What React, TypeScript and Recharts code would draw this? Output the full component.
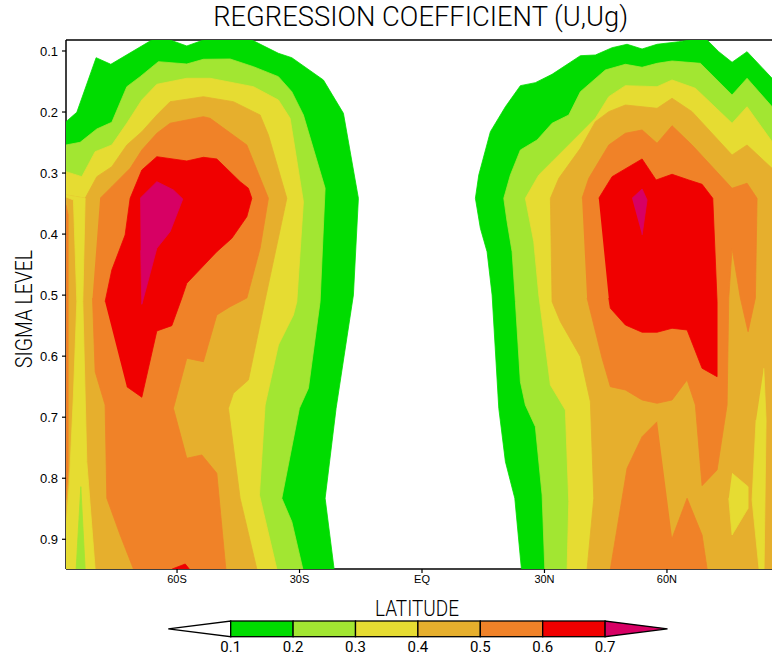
import React from 'react';
import { ScatterChart, Scatter, XAxis, YAxis, ReferenceLine } from 'recharts';

type P = { lat: number; s: number };
const toPts = (a: number[][]): P[] => a.map(([lat, s]) => ({ lat, s }));

// axis extents (latitude degrees, sigma)
const LAT_MIN = -87.2;
const LAT_MAX = 87.2;
const SIG_TOP = 0.082;
const SIG_BOT = 0.9487;

const latTicks = [-60, -30, 0, 30, 60];
const latTickLabels = ['60S', '30S', 'EQ', '30N', '60N'];
const sigmaTicks = [0.1, 0.2, 0.3, 0.4, 0.5, 0.6, 0.7, 0.8, 0.9];

// contour levels and fill colours
const levels = [0.1, 0.2, 0.3, 0.4, 0.5, 0.6, 0.7];
const levelColors = ['#00dc00', '#a2e632', '#e6dc32', '#e6af2d', '#f08228', '#f00000', '#d70064'];

// ---- Southern hemisphere contour regions (lat, sigma) ----
const sh01 = [[-87.2,0.2158],[-84.55,0.2004],[-79.82,0.111],[-76.22,0.1218],[-66.18,0.082],[-61.7,0.082],[-57.61,0.0918],[-53.54,0.082],[-41.69,0.082],[-35.17,0.1038],[-31.89,0.111],[-24.15,0.1475],[-19.25,0.2021],[-15.58,0.3413],[-16.8,0.4997],[-21.04,0.6854],[-23.73,0.8328],[-21.53,0.9487],[-87.2,0.9487]];
const sh02 = [[-87.2,0.254],[-83.74,0.2496],[-79.65,0.2278],[-75.98,0.2168],[-72.3,0.1585],[-69.04,0.1421],[-64.56,0.1175],[-57.61,0.1213],[-53.54,0.1136],[-47.0,0.1131],[-41.29,0.1257],[-35.17,0.1421],[-31.89,0.1667],[-29.05,0.2049],[-23.73,0.3249],[-24.96,0.5107],[-27.82,0.6526],[-30.03,0.6854],[-34.34,0.8328],[-31.89,0.8711],[-29.19,0.9487],[-87.2,0.9487]];
const sh03 = [[-87.2,0.2977],[-83.32,0.3059],[-80.06,0.265],[-75.98,0.254],[-72.3,0.2184],[-68.63,0.1803],[-64.95,0.1546],[-57.61,0.1447],[-51.9,0.1447],[-41.29,0.1585],[-35.17,0.1803],[-32.31,0.2103],[-29.05,0.3469],[-30.66,0.5107],[-31.5,0.5325],[-35.17,0.5817],[-38.43,0.68],[-39.82,0.8274],[-35.56,0.9487],[-87.2,0.9487]];
const sh04 = [[-87.2,0.3359],[-82.51,0.3413],[-79.65,0.3059],[-75.98,0.2896],[-72.3,0.254],[-68.63,0.2322],[-64.95,0.2049],[-61.7,0.1831],[-53.54,0.1749],[-46.19,0.1831],[-39.65,0.2049],[-37.62,0.2376],[-33.11,0.3413],[-38.43,0.508],[-42.52,0.639],[-46.19,0.6608],[-47.42,0.6854],[-44.55,0.8328],[-40.46,0.9487],[-87.2,0.9487]];
const sh05 = [[-78.84,0.3413],[-75.98,0.3223],[-71.49,0.2922],[-68.63,0.2622],[-64.95,0.2348],[-61.7,0.2184],[-53.54,0.2076],[-51.9,0.2103],[-42.91,0.254],[-37.62,0.3413],[-39.65,0.4232],[-42.9,0.5047],[-47.0,0.5189],[-50.26,0.5325],[-53.54,0.609],[-57.61,0.6034],[-60.89,0.6854],[-57.61,0.7673],[-53.93,0.7618],[-50.26,0.7918],[-48.05,0.9487],[-70.68,0.9487],[-73.94,0.893],[-77.2,0.8328],[-77.62,0.68],[-80.06,0.6254],[-80.7,0.5047]];
const sh06 = [[-77.62,0.5107],[-75.98,0.4588],[-72.72,0.4014],[-71.49,0.3413],[-68.63,0.295],[-64.95,0.2732],[-57.61,0.2802],[-53.54,0.2742],[-50.26,0.2769],[-44.55,0.3141],[-42.52,0.3249],[-41.69,0.3413],[-42.91,0.3715],[-46.58,0.4069],[-50.26,0.4288],[-57.61,0.4806],[-58.83,0.5047],[-61.28,0.55],[-64.95,0.5587],[-68.63,0.6673],[-72.3,0.65]];
const sh07 = [[-69.04,0.3413],[-64.95,0.3141],[-60.89,0.3277],[-58.59,0.3425],[-61.7,0.396],[-64.95,0.4232],[-68.63,0.515],[-68.9,0.4265]];
// local minima / maxima inside the bands
const shYellowStrip = [[-87.2,0.3359],[-82.51,0.3413],[-83.08,0.5107],[-82.1,0.7728],[-80.06,0.9487],[-87.2,0.9487],[-87.2,0.882],[-86.36,0.8056],[-85.38,0.6636],[-84.55,0.5107],[-85.38,0.3441],[-87.2,0.3392]];
const shOrangeEdge = [[-87.2,0.3523],[-86.68,0.3687],[-86.68,0.7864],[-87.2,0.8356]];
const shGreenSpike = [[-84.72,0.9487],[-83.57,0.8138],[-82.51,0.9487]];
const shRedFoot = [[-61.2,0.9487],[-58.0,0.9405],[-57.0,0.9487]];

// ---- Northern hemisphere contour regions (lat, sigma) ----
const nh01 = [[24.35,0.9487],[22.73,0.8328],[20.43,0.7728],[18.81,0.6854],[17.17,0.4997],[15.94,0.4288],[14.3,0.3905],[13.08,0.3413],[13.91,0.3031],[16.75,0.2322],[20.43,0.1913],[24.1,0.1568],[27.77,0.1519],[31.86,0.1382],[38.8,0.1077],[42.47,0.1066],[46.56,0.0946],[50.23,0.089],[53.91,0.0967],[57.58,0.089],[62.9,0.0848],[65.66,0.082],[69.83,0.082],[72.69,0.1011],[75.95,0.1185],[79.62,0.1011],[85.75,0.1447],[87.2,0.1557],[87.2,0.9487]];
const nh02 = [[30.08,0.9487],[29.42,0.8274],[27.77,0.7155],[25.32,0.68],[24.1,0.6418],[22.88,0.5107],[22.07,0.4288],[20.84,0.3797],[20.03,0.3413],[21.65,0.3031],[24.1,0.2622],[28.19,0.2458],[31.86,0.2184],[35.95,0.2049],[38.8,0.1667],[44.92,0.1311],[49.82,0.1218],[53.91,0.1267],[57.58,0.1202],[61.25,0.1164],[68.19,0.1202],[75.95,0.1721],[79.62,0.1447],[85.75,0.1913],[87.2,0.2016],[87.2,0.9487]];
const nh03 = [[35.54,0.9487],[35.95,0.8384],[35.12,0.6882],[31.45,0.6472],[28.61,0.4997],[27.38,0.4124],[25.32,0.3413],[28.61,0.3031],[31.86,0.2814],[38.4,0.2376],[42.47,0.2103],[45.75,0.1749],[49.82,0.1568],[57.58,0.1585],[61.25,0.1475],[66.96,0.1611],[75.95,0.2184],[79.62,0.1913],[85.75,0.2486],[87.2,0.2556],[87.2,0.9487]];
const nh04 = [[40.44,0.9487],[42.08,0.8328],[41.24,0.6745],[38.8,0.6008],[33.9,0.5435],[31.86,0.5107],[31.45,0.3413],[33.51,0.3086],[38.8,0.2594],[42.47,0.2158],[45.75,0.1994],[49.82,0.1885],[53.91,0.1913],[57.58,0.1939],[61.25,0.1775],[66.15,0.1994],[75.95,0.2704],[79.62,0.254],[85.75,0.2922],[87.2,0.2982],[87.2,0.9487]];
const nh05 = [[39.21,0.3413],[40.85,0.3086],[45.75,0.254],[49.82,0.2348],[53.91,0.2294],[57.58,0.2512],[61.25,0.2224],[66.15,0.254],[75.95,0.3249],[79.62,0.3167],[82.07,0.3413],[81.66,0.5047],[79.87,0.5599],[77.98,0.5047],[75.95,0.4232],[75.14,0.5047],[74.73,0.68],[72.28,0.7864],[68.6,0.8121],[66.96,0.68],[64.93,0.639],[61.25,0.6718],[57.58,0.6772],[53.91,0.6718],[49.82,0.6554],[46.14,0.65],[44.11,0.6034],[40.44,0.5047]];
const nh05b = [[57.58,0.7073],[53.91,0.7319],[50.23,0.7836],[46.14,0.9487],[69.83,0.9487],[68.6,0.893],[64.93,0.8328],[61.25,0.8984]];
const nh06 = [[43.3,0.3413],[46.56,0.3059],[53.91,0.2769],[57.34,0.3113],[61.25,0.302],[65.34,0.3113],[68.6,0.3184],[71.22,0.3413],[72.28,0.5107],[72.28,0.6336],[68.6,0.6198],[64.93,0.5571],[61.25,0.5543],[57.58,0.5608],[53.91,0.5608],[49.82,0.5489],[46.14,0.5215],[45.75,0.5047]];
const nh07 = [[51.46,0.3413],[53.91,0.3261],[55.13,0.3441],[53.91,0.4014]];
const nhYellowPatch = [[75.95,0.7918],[79.87,0.8138],[79.87,0.8492],[75.95,0.893],[75.14,0.8328]];
const nhYellowStrip = [[83.72,0.6198],[84.28,0.7045],[83.79,0.9487],[82.56,0.9487],[80.85,0.8356],[81.83,0.7045]];

// painting order: lowest level first, local features on top
const layers: { d: number[][]; c: string }[] = [
  { d: sh01, c: levelColors[0] }, { d: nh01, c: levelColors[0] },
  { d: sh02, c: levelColors[1] }, { d: nh02, c: levelColors[1] },
  { d: sh03, c: levelColors[2] }, { d: nh03, c: levelColors[2] },
  { d: sh04, c: levelColors[3] }, { d: nh04, c: levelColors[3] },
  { d: shYellowStrip, c: levelColors[2] },
  { d: shOrangeEdge, c: levelColors[4] },
  { d: shGreenSpike, c: levelColors[1] },
  { d: sh05, c: levelColors[4] }, { d: nh05, c: levelColors[4] }, { d: nh05b, c: levelColors[4] },
  { d: sh06, c: levelColors[5] }, { d: nh06, c: levelColors[5] }, { d: shRedFoot, c: levelColors[5] },
  { d: sh07, c: levelColors[6] }, { d: nh07, c: levelColors[6] },
  { d: nhYellowPatch, c: levelColors[2] }, { d: nhYellowStrip, c: levelColors[2] },
];

const Empty = () => <g />;

const TITLE_FONT = "Roboto, 'Liberation Sans', 'DejaVu Sans', sans-serif";
const TICK_FONT = "'Liberation Sans', Arial, sans-serif";

function ColorBar() {
  const x0 = 230.7;
  const w = 62.4;
  const y0 = 621;
  const h = 15.7;
  const n = levels.length - 1;
  return (
    <g>
      <polygon points={`${x0 - w},${y0 + h / 2} ${x0},${y0} ${x0},${y0 + h}`} fill="#ffffff" stroke="#000" strokeWidth={1.3} />
      {levelColors.slice(0, n).map((c, i) => (
        <rect key={i} x={x0 + i * w} y={y0} width={w} height={h} fill={c} stroke="#000" strokeWidth={1.3} />
      ))}
      <polygon points={`${x0 + n * w},${y0} ${x0 + n * w},${y0 + h} ${x0 + (n + 1) * w},${y0 + h / 2}`} fill={levelColors[n]} stroke="#000" strokeWidth={1.3} />
      {levels.map((v, i) => (
        <text key={v} x={x0 + i * w} y={652} textAnchor="middle" fontSize={15} fontFamily={TITLE_FONT} fill="#000">
          {v.toFixed(1)}
        </text>
      ))}
    </g>
  );
}

export default function App() {
  return (
    <div style={{ position: 'absolute', left: 0, top: 0, width: 772, height: 657, overflow: 'hidden', background: '#fff' }}>
      <ScatterChart width={790} height={657} margin={{ top: 40, right: 12, bottom: 58, left: 0 }}>
        <XAxis
          type="number"
          dataKey="lat"
          domain={[LAT_MIN, LAT_MAX]}
          allowDataOverflow
          ticks={latTicks}
          tickFormatter={(v: number) => latTickLabels[latTicks.indexOf(v)] ?? ''}
          height={30}
          tickSize={4}
          tickMargin={2}
          axisLine={{ stroke: '#000', strokeWidth: 1.5 }}
          tickLine={{ stroke: '#000', strokeWidth: 1.2 }}
          tick={{ fontSize: 11, fill: '#000', fontFamily: TICK_FONT }}
        />
        <YAxis
          type="number"
          dataKey="s"
          domain={[SIG_TOP, SIG_BOT]}
          reversed
          allowDataOverflow
          ticks={sigmaTicks}
          tickFormatter={(v: number) => v.toFixed(1)}
          width={66}
          tickSize={4}
          tickMargin={4}
          axisLine={{ stroke: '#000', strokeWidth: 1.5 }}
          tickLine={{ stroke: '#000', strokeWidth: 1.2 }}
          tick={{ fontSize: 13, fill: '#000', fontFamily: TICK_FONT }}
        />
        {layers.map((l, i) => (
          <Scatter
            key={i}
            data={toPts(l.d)}
            fill={l.c}
            line={{ fill: l.c, stroke: l.c, strokeWidth: 0.8 }}
            lineType="joint"
            shape={Empty}
            legendType="none"
            isAnimationActive={false}
          />
        ))}
        <ReferenceLine y={0.5096} stroke="#ffffff" strokeOpacity={0.25} strokeWidth={1} />
        <ReferenceLine y={SIG_TOP} stroke="#000" strokeWidth={1.5} />
      </ScatterChart>
      <svg width={772} height={657} style={{ position: 'absolute', left: 0, top: 0, pointerEvents: 'none' }}>
        <text x={420.7} y={25.5} textAnchor="middle" fontSize={27} fontWeight={300} fontFamily={TITLE_FONT} textLength={415} lengthAdjust="spacingAndGlyphs" fill="#000">
          REGRESSION COEFFICIENT (U,Ug)
        </text>
        <text transform="translate(31.5,309) rotate(-90)" textAnchor="middle" fontSize={24} fontWeight={300} fontFamily={TITLE_FONT} textLength={118} lengthAdjust="spacingAndGlyphs" fill="#000">
          SIGMA LEVEL
        </text>
        <text x={417} y={616} textAnchor="middle" fontSize={22} fontWeight={300} fontFamily={TITLE_FONT} textLength={84} lengthAdjust="spacingAndGlyphs" fill="#000">
          LATITUDE
        </text>
        <ColorBar />
      </svg>
    </div>
  );
}
